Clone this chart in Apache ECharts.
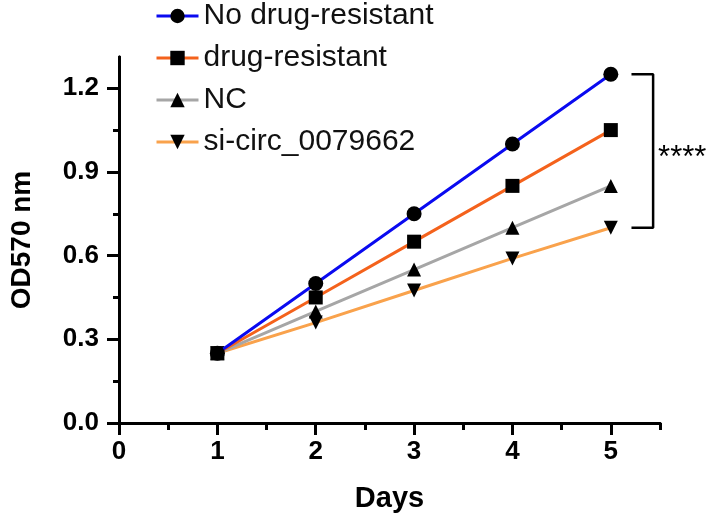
<!DOCTYPE html>
<html>
<head>
<meta charset="utf-8">
<script src="https://cdn.jsdelivr.net/npm/echarts@6/dist/echarts.min.js"></script>
<style>html,body{margin:0;padding:0;background:#fff;}#c{width:709px;height:518px;}</style>
</head>
<body>
<div id="c"></div>
<script>
const days = [1, 2, 3, 4, 5];
const seriesNames = ['No drug-resistant', 'drug-resistant', 'NC', 'si-circ_0079662'];
const noDrugResistant = [0.25, 0.50, 0.75, 1.00, 1.25];
const drugResistant = [0.25, 0.45, 0.65, 0.85, 1.05];
const nc = [0.25, 0.40, 0.55, 0.70, 0.85];
const siCirc = [0.25, 0.36, 0.475, 0.59, 0.70];
const xTicks = [0, 1, 2, 3, 4, 5];
const xMinorTicks = [0.5, 1.5, 2.5, 3.5, 4.5, 5.5];
const yTicks = [0, 0.3, 0.6, 0.9, 1.2];
const yMinorTicks = [0.15, 0.45, 0.75, 1.05];
const significance = '****';

const FONT = "'Liberation Sans', Arial, sans-serif";
const lineColors = ['#0a0af0', '#f4621c', '#a6a6a6', '#f9a24c'];
const symbols = ['circle', 'rect', 'triangle', 'triangle'];
const rotations = [0, 0, 0, 180];
const allValues = [noDrugResistant, drugResistant, nc, siCirc];

const series = allValues.map((vals, i) => ({
  name: seriesNames[i],
  type: 'line',
  data: days.map((d, j) => [d, vals[j]]),
  symbol: symbols[i],
  symbolSize: i === 0 ? 15 : 14,
  symbolRotate: rotations[i],
  showAllSymbol: true,
  itemStyle: { color: '#000' },
  lineStyle: { color: lineColors[i], width: 3 },
  z: 10 - i
}));

// significance bracket spanning the day-5 extremes
const top5 = noDrugResistant[4], bot5 = siCirc[4];
series.push({
  name: 'bracket',
  type: 'line',
  data: [[5.21, top5], [5.43, top5], [5.43, (top5 + bot5) / 2], [5.43, bot5], [5.21, bot5]],
  symbol: 'none',
  lineStyle: { color: '#000', width: 2.5 },
  silent: true,
  label: { show: false },
  markPoint: {
    symbol: 'circle', symbolSize: 0,
    data: [{ coord: [5.43, (top5 + bot5) / 2], value: significance }],
    label: { show: true, formatter: significance, position: 'right', distance: 5, offset: [0, 7],
      fontFamily: FONT, fontSize: 31, color: '#000' }
  }
});

const axisCommon = {
  axisLine: { show: true, lineStyle: { color: '#000', width: 3 }, onZero: false },
  splitLine: { show: false }
};

const option = {
  animation: false,
  backgroundColor: '#fff',
  grid: { left: 110, right: 49, top: 57, bottom: 95, containLabel: false },
  legend: {
    data: seriesNames,
    orient: 'vertical',
    left: 150, top: -4,
    itemWidth: 42, itemHeight: 18,
    itemGap: 12,
    lineStyle: { width: 3 },
    textStyle: { fontFamily: FONT, fontSize: 30, color: '#111', lineHeight: 30 }
  },
  xAxis: [
    Object.assign({}, axisCommon, {
      type: 'value', min: 0, max: 5.5, position: 'bottom',
      name: 'Days', nameLocation: 'middle', nameGap: 61,
      nameTextStyle: { fontFamily: FONT, fontSize: 29, fontWeight: 'bold', color: '#000' },
      axisTick: { show: true, inside: false, length: 12, lineStyle: { color: '#000', width: 3 }, customValues: xTicks },
      axisLabel: { show: true, margin: 16, fontFamily: FONT, fontSize: 26, fontWeight: 'bold', color: '#000', customValues: xTicks }
    }),
    Object.assign({}, axisCommon, {
      type: 'value', min: 0, max: 5.5, position: 'bottom', offset: 0,
      axisTick: { show: true, length: 7, lineStyle: { color: '#000', width: 3 }, customValues: xMinorTicks },
      axisLabel: { show: false }
    })
  ],
  yAxis: [
    Object.assign({}, axisCommon, {
      type: 'value', min: 0, max: 1.312, position: 'left',
      name: 'OD570 nm', nameLocation: 'middle', nameGap: 83, nameRotate: 90,
      nameTextStyle: { fontFamily: FONT, fontSize: 28, fontWeight: 'bold', color: '#000' },
      axisTick: { show: true, length: 12, lineStyle: { color: '#000', width: 3 }, customValues: yTicks },
      axisLabel: { show: true, margin: 20, fontFamily: FONT, fontSize: 26, fontWeight: 'bold', color: '#000',
        customValues: yTicks, formatter: v => v.toFixed(1) }
    }),
    Object.assign({}, axisCommon, {
      type: 'value', min: 0, max: 1.312, position: 'left', offset: 0,
      axisTick: { show: true, length: 6, lineStyle: { color: '#000', width: 3 }, customValues: yMinorTicks },
      axisLabel: { show: false }
    })
  ],
  series: series
};

const chart = echarts.init(document.getElementById('c'), null, { renderer: 'canvas' });
chart.setOption(option);
</script>
</body>
</html>
